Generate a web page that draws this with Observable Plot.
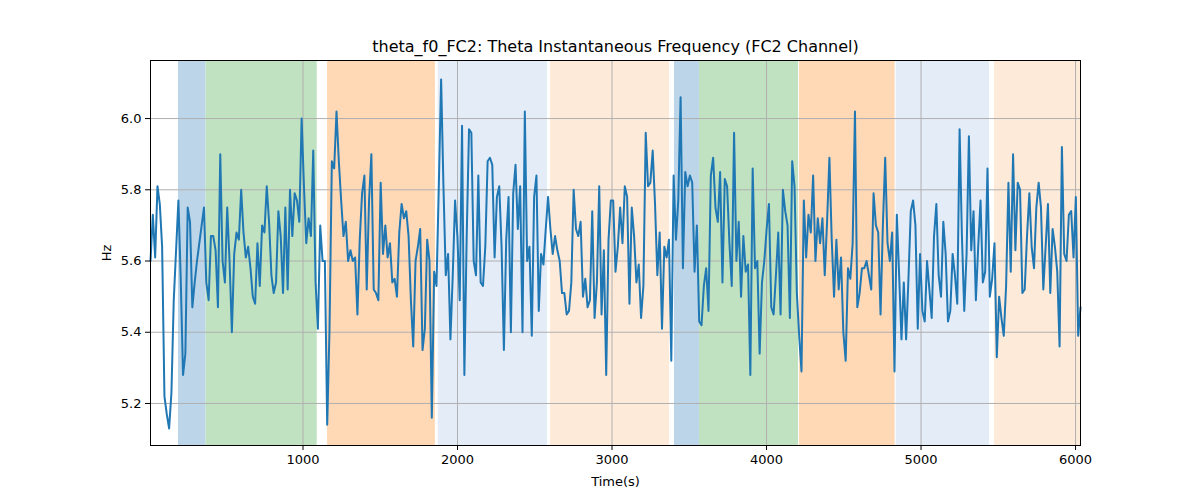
<!DOCTYPE html>
<html>
<head>
<meta charset="utf-8">
<script src="https://cdn.jsdelivr.net/npm/d3@7"></script>
<script src="https://cdn.jsdelivr.net/npm/@observablehq/plot@0.6"></script>
<style>
  html, body { margin: 0; padding: 0; background: #fff; }
  #chart svg { display: block; }
</style>
</head>
<body>
<div id="chart"></div>
<script>
// ---- data ----
const titleText = "theta_f0_FC2: Theta Instantaneous Frequency (FC2 Channel)";
const xLabel = "Time(s)";
const yLabel = "Hz";

const tStart = 13;      // time of first sample (s)
const tEnd = 6032;      // time of last sample (s)

const hz = [
  5.60, 5.73, 5.61, 5.81, 5.76, 5.64, 5.22, 5.17, 5.13, 5.23, 5.49, 5.63, 5.77, 5.55, 5.28, 5.34, 5.75, 5.71, 5.47, 5.54,
  5.60, 5.65, 5.70, 5.75, 5.54, 5.49, 5.67, 5.67, 5.63, 5.47, 5.90, 5.60, 5.54, 5.75, 5.60, 5.40, 5.62, 5.68, 5.66, 5.80,
  5.68, 5.61, 5.64, 5.58, 5.50, 5.48, 5.65, 5.53, 5.70, 5.68, 5.81, 5.71, 5.56, 5.51, 5.54, 5.74, 5.67, 5.51, 5.75, 5.52,
  5.80, 5.67, 5.79, 5.77, 5.71,
  6.00, 5.81, 5.65, 5.72, 5.67, 5.91, 5.54, 5.41, 5.70, 5.60, 5.60, 5.14, 5.41, 5.88, 5.86, 6.02, 5.88, 5.77, 5.67, 5.71,
  5.60, 5.63, 5.60, 5.61, 5.45, 5.66, 5.79, 5.84, 5.52, 5.77, 5.90, 5.52, 5.51, 5.49, 5.82, 5.62, 5.70, 5.61, 5.65, 5.54,
  5.55, 5.50, 5.68, 5.76, 5.72, 5.74, 5.67, 5.49, 5.36, 5.60, 5.64, 5.69, 5.35, 5.41, 5.66, 5.60, 5.16, 5.57, 5.53, 5.81,
  6.11, 5.81, 5.56, 5.62, 5.38, 5.56,
  5.77, 5.67, 5.49, 5.98, 5.28, 5.67, 5.97, 5.96, 5.60, 5.56, 5.84, 5.54, 5.53, 5.64, 5.88, 5.89, 5.87, 5.61, 5.78, 5.81,
  5.64, 5.35, 5.66, 5.78, 5.40, 5.79, 5.87, 5.69, 5.81, 5.40, 6.02, 5.60, 5.64, 5.39, 5.78, 5.84, 5.46, 5.62, 5.59, 5.69,
  5.78, 5.69, 5.62, 5.67, 5.63, 5.60, 5.51, 5.51, 5.45, 5.46, 5.54, 5.80, 5.69, 5.67, 5.71, 5.50, 5.55, 5.47, 5.49, 5.74,
  5.44, 5.54, 5.81, 5.45, 5.63, 5.28, 5.66,
  5.77, 5.77, 5.57, 5.64, 5.75, 5.65, 5.81, 5.78, 5.48, 5.75, 5.67, 5.54, 5.59, 5.44, 5.53, 5.96, 5.81, 5.82, 5.91, 5.76,
  5.56, 5.68, 5.41, 5.64, 5.61, 5.66, 5.32, 5.84, 5.66, 5.77, 6.06, 5.58, 5.85, 5.81, 5.84, 5.82, 5.57, 5.70, 5.43, 5.42,
  5.53, 5.58, 5.46, 5.84, 5.89, 5.75, 5.71, 5.85, 5.54, 5.83, 5.81, 5.65, 5.53, 5.96, 5.60, 5.71, 5.50, 5.67, 5.57, 5.59,
  5.28, 5.86, 5.58, 5.60, 5.34, 5.54, 5.60,
  5.69, 5.76, 5.47, 5.45, 5.56, 5.68, 5.45, 5.80, 5.74, 5.70, 5.44, 5.88, 5.81, 5.51, 5.39, 5.29, 5.77, 5.61, 5.73, 5.68,
  5.84, 5.60, 5.72, 5.65, 5.72, 5.56, 5.71, 5.89, 5.66, 5.50, 5.66, 5.52, 5.61, 5.40, 5.32, 5.58, 5.55, 5.65, 6.02, 5.47,
  5.51, 5.58, 5.58, 5.60, 5.56, 5.52, 5.79, 5.70, 5.68, 5.45, 5.70, 5.89, 5.65, 5.60, 5.68, 5.29, 5.73, 5.56, 5.38, 5.54,
  5.38, 5.55, 5.74, 5.77, 5.70, 5.41, 5.62,
  5.46, 5.43, 5.60, 5.52, 5.44, 5.67, 5.76, 5.56, 5.50, 5.71, 5.62, 5.43, 5.46, 5.62, 5.56, 5.48, 5.97, 5.67, 5.46, 5.62,
  5.95, 5.63, 5.74, 5.49, 5.64, 5.77, 5.54, 5.57, 5.86, 5.50, 5.55, 5.65, 5.33, 5.50, 5.44, 5.39, 5.53, 5.82, 5.57, 5.90,
  5.63, 5.82, 5.80, 5.51, 5.52, 5.67, 5.79, 5.64, 5.58, 5.75, 5.82, 5.75, 5.52, 5.64, 5.76, 5.51, 5.69, 5.64, 5.57, 5.36,
  5.92, 5.62, 5.60, 5.73, 5.74, 5.61, 5.78, 5.39, 5.47
];

const bandStart = [194, 373, 1159, 1875, 2602, 3404, 3566, 4213, 4839, 5475];
const bandEnd   = [373, 1092, 1857, 2582, 3372, 3566, 4207, 4832, 5443, 6032];
const bandKind  = ["blue", "green", "orange", "lightblue", "lightorange",
                   "blue", "green", "orange", "lightblue", "lightorange"];

const xTicks = [1000, 2000, 3000, 4000, 5000, 6000];
const yTicks = [5.2, 5.4, 5.6, 5.8, 6.0];
const xDomain = [13, 6032];
const yDomain = [5.082, 6.163];

// ---- styling ----
const kindColor = {
  blue: "#bcd5e9",
  green: "#c0e2c0",
  orange: "#ffd8b5",
  lightblue: "#e4ecf7",
  lightorange: "#feead8"
};

// ---- build tables ----
const step = (tEnd - tStart) / (hz.length - 1);
const series = hz.map((v, i) => ({t: tStart + i * step, hz: v}));
const bands = bandStart.map((s, i) => ({start: s, end: bandEnd[i], color: kindColor[bandKind[i]]}));

const chart = Plot.plot({
  width: 1200,
  height: 500,
  marginLeft: 150,
  marginRight: 120,
  marginTop: 60,
  marginBottom: 55,
  style: {fontFamily: "'DejaVu Sans', sans-serif", fontSize: "13px", color: "#000", background: "#fff"},
  x: {domain: xDomain, label: null},
  y: {domain: yDomain, label: null},
  color: {type: "identity"},
  marks: [
    Plot.rect(bands, {x1: "start", x2: "end", y1: () => yDomain[0], y2: () => yDomain[1], fill: "color"}),
    Plot.gridX(xTicks, {stroke: "#b0b0b0", strokeOpacity: 1, strokeWidth: 1}),
    Plot.gridY(yTicks, {stroke: "#b0b0b0", strokeOpacity: 1, strokeWidth: 1}),
    Plot.line(series, {x: "t", y: "hz", stroke: "#1f77b4", strokeWidth: 2}),
    Plot.frame({stroke: "#000", strokeWidth: 1}),
    Plot.axisX({ticks: xTicks, tickSize: 5, tickPadding: 4, tickFormat: d3.format("d"), label: null}),
    Plot.axisY({ticks: yTicks, tickSize: 5, tickPadding: 4, tickFormat: d3.format(".1f"), label: null}),
    Plot.text([titleText], {text: d => d, frameAnchor: "top", lineAnchor: "middle", dy: -14, fontSize: 16}),
    Plot.text([xLabel], {text: d => d, frameAnchor: "bottom", lineAnchor: "middle", dy: 36}),
    Plot.text([yLabel], {text: d => d, frameAnchor: "left", lineAnchor: "middle", textAnchor: "middle", dx: -44, rotate: -90})
  ]
});
document.getElementById("chart").appendChild(chart);
</script>
</body>
</html>
